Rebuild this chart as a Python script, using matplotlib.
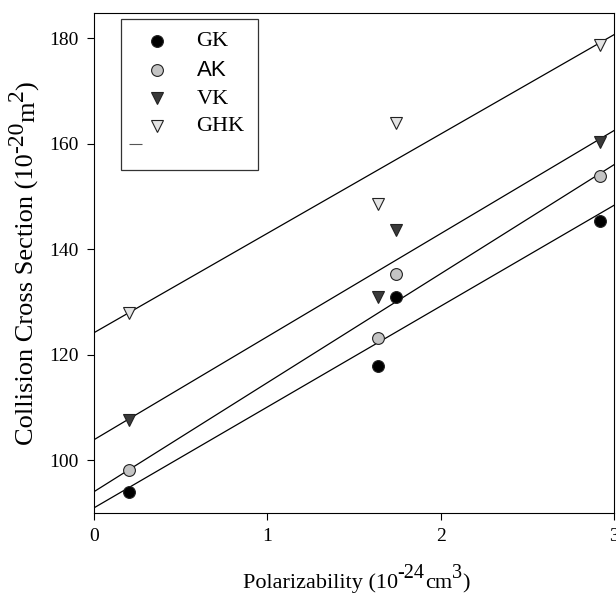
import numpy as np
import matplotlib
matplotlib.use("Agg")
import matplotlib.pyplot as plt
from matplotlib.lines import Line2D
from matplotlib.path import Path

plt.rcParams['font.family'] = ['Liberation Serif', 'DejaVu Serif']

# polarizability (10^-24 cm^3)
polarizability = [0.20, 1.64, 1.74, 2.92]

# collision cross sections (10^-20 m^2)
gk = [94.0, 117.9, 130.9, 145.4]
ak = [98.1, 123.2, 135.3, 153.9]
vk = [107.7, 130.9, 143.6, 160.4]
ghk = [128.0, 148.5, 164.0, 178.7]

series = [
    ("GK", gk, 'o', 'black'),
    ("AK", ak, 'o', '#c4c4c4'),
    ("VK", vk, 'v', '#3a3a3a'),
    ("GHK", ghk, 'v', '#e4e4e4'),
]

W, H = 616, 594
fig = plt.figure(figsize=(W / 100, H / 100), dpi=100)
ax = fig.add_axes([0.1526, 0.1364, 0.8442, 0.8416])

x = np.array(polarizability)
xx = np.array([0, 3])
handles = []
for name, y, mk, col in series:
    slope, icpt = np.polyfit(x, np.array(y), 1)
    ax.plot(xx, slope * xx + icpt, color='black', lw=0.9, zorder=1)
    h, = ax.plot(x, y, linestyle='none', marker=mk, markersize=8.5,
                 markerfacecolor=col, markeredgecolor='#222222',
                 markeredgewidth=0.8, zorder=3)
    handles.append(h)

ax.set_xlim(0, 3)
ax.set_ylim(90, 184.8)
ax.set_xticks([0, 1, 2, 3])
ax.set_yticks([100, 120, 140, 160, 180])
ax.tick_params(direction='out', length=5, width=0.8, labelsize=14, pad=6)

# the stray little dash sitting under the legend entries (an empty entry)
dash_marker = Path([(-1, 0.25), (-0.55, 0.25)], [Path.MOVETO, Path.LINETO])
dash = Line2D([], [], linestyle='none', marker=dash_marker, markersize=40,
              markeredgewidth=0.8, color='#555555')
handles.append(dash)
labels = ["GK", "AK", "VK", "GHK", ""]
leg = ax.legend(handles, labels, loc='upper left', bbox_to_anchor=(0.052, 0.988),
                fontsize=16, frameon=True, fancybox=False, edgecolor='black',
                handlelength=2.0, handleheight=0.1, handletextpad=0.8,
                borderpad=0.6, labelspacing=0.39, borderaxespad=0)
leg.get_frame().set_linewidth(0.9)
leg.get_texts()[1].set_family(['Liberation Sans', 'DejaVu Sans'])
leg.get_texts()[4].set_fontsize(1)


def chained_label(pieces, cx, cy, vertical=False):
    """lay text pieces (text, size, rise_pt) one after another, centred on cx, cy (pixels)"""
    fig.canvas.draw()
    rend = fig.canvas.get_renderer()
    texts = []
    total = 0
    for s, size, rise in pieces:
        t = fig.text(0, 0, s, fontsize=size, ha='left', va='baseline',
                     rotation=90 if vertical else 0, rotation_mode='anchor')
        bb = t.get_window_extent(rend)
        step = bb.height if vertical else bb.width
        texts.append((t, step, rise))
        total += step
    pos = -total / 2
    for t, step, rise in texts:
        r = rise * 100 / 72
        if vertical:
            t.set_position(((cx - r) / W, (H - cy + pos) / H))
        else:
            t.set_position(((cx + pos) / W, (H - cy + r) / H))
        pos += step


chained_label([("Polarizability (10", 16, 0), ("-24", 14.5, 7),
               ("cm", 16, 0), ("3", 14.5, 7), (")", 16, 0)],
              356, 588)
chained_label([("Collision Cross Section (10", 19, 0), ("-20", 17, 8),
               ("m", 19, 0), ("2", 17, 8), (")", 19, 0)],
              34, 263, vertical=True)

fig.savefig("out.png", dpi=100)
